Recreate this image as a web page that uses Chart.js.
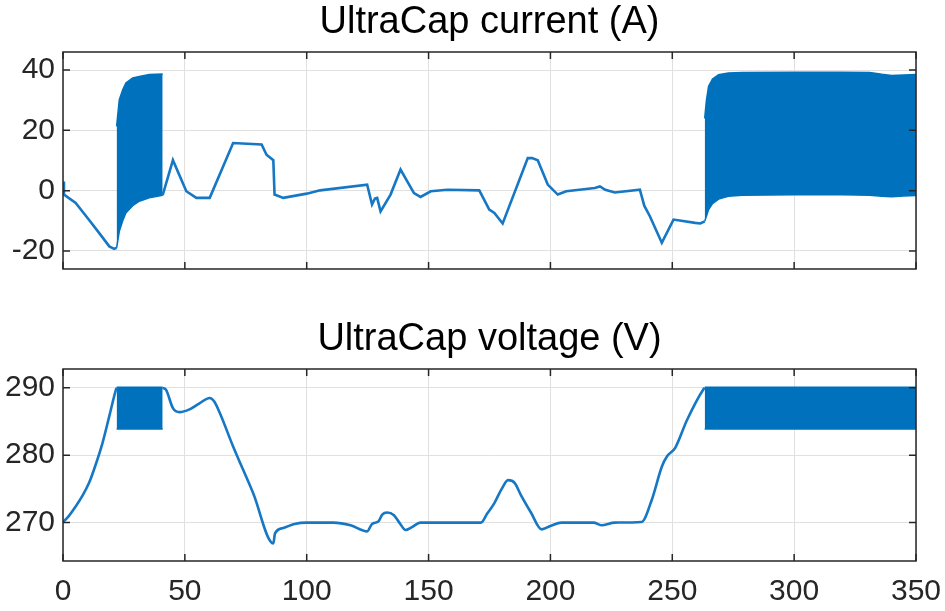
<!DOCTYPE html>
<html>
<head>
<meta charset="utf-8">
<title>UltraCap</title>
<script src="https://cdn.jsdelivr.net/npm/chart.js@4.4.1/dist/chart.umd.min.js"></script>
<style>
  body { margin: 0; background: #fff; }
  canvas { position: absolute; left: 0; }
  #cur_chart { top: 0; }
  #volt_chart { top: 317px; }
</style>
</head>
<body>
<canvas id="cur_chart" width="945" height="300"></canvas>
<canvas id="volt_chart" width="945" height="294"></canvas>
<script>
/*_____________________DATA____________________*/

const xTicks = [0, 50, 100, 150, 200, 250, 300, 350];
const curTicks = [-20, 0, 20, 40];
const voltTicks = [270, 280, 290];

// current trace (null = where the switching band is drawn)
const curT = [0, 0.4, 5.2, 10, 14.8, 19, 21, 22, 31,
  40.9, 45.1, 50.6, 54.7, 60.2, 69.8, 81.5, 83.5, 86.3, 86.8, 90.4, 100, 105.5,
  124.8, 126.8, 128, 128.9, 130.3, 134.4, 138.5, 144, 146.7, 150.9, 157.7, 170.8,
  174.9, 177, 180.4, 190.7, 192.5, 194.8, 198.9, 203, 206.5, 218.2, 220.3, 222.5,
  226.4, 236.7, 238.5, 240.8, 245.7, 250.5, 259.4, 261.5, 263.3];
const curA = [3, -1.3, -4.1, -9, -14, -18.5, -19.3, -19, null,
  -1.5, 10.1, -0.2, -2.4, -2.4, 15.8, 15.3, 11.9, 10.1, -1.3, -2.4, -1, 0.1,
  2.0, -4.6, -2.6, -2.4, -6.9, -1.3, 7.0, -0.8, -2.1, -0.2, 0.3, 0.1,
  -6.3, -7.4, -10.9, 10.8, 10.8, 10.1, 2.0, -1.3, -0.2, 0.9, 1.4, 0.3,
  -0.6, 0.3, -5, -8.5, -17.3, -9.6, -10.7, -10.9, -10.2];

// current switching bands: upper / lower envelope
const curBand1T = [22, 22.4, 23.1, 24.5, 25.8, 28.6, 31.3, 35.4, 40.9];
const curBand1Hi = [21.3, 24.6, 30.2, 33.5, 35.7, 37.4, 37.9, 38.5, 38.7];
const curBand1Lo = [-19, -17, -13.5, -10, -7.4, -5, -3.5, -2.4, -1.5];

const curBand2T = [263.3, 264, 264.9, 266.5, 269, 273, 278.7, 300, 320, 331, 336, 340, 345, 350];
const curBand2Hi = [24, 30, 34.6, 37, 38.5, 39, 39.2, 39.3, 39.3, 39.2, 38.6, 38.2, 38.4, 38.5];
const curBand2Lo = [-10.2, -8.5, -6.3, -4.3, -2.8, -1.9, -1.5, -1.4, -1.4, -1.5, -1.9, -2.0, -1.8, -1.6];

// voltage trace
const voltT = [0, 2, 5.2, 8, 10.7, 13.5, 16.2, 19, 21.7, 22, 31,
  40.9, 42.3, 45.1, 47.8, 51.9, 56, 60.2, 62, 64.3, 69.8, 78, 86.3, 87, 90.4, 95, 100,
  111, 118, 124.8, 126.8, 129.5, 131, 133, 135.8, 138, 140.6, 143, 146.7, 171.5,
  174, 177, 180, 182.6, 185.3, 188, 192, 196.4, 200, 204.5, 217.7, 220.9, 226.4,
  237.4, 241.6, 245.7, 247.8, 251.2, 256, 262.8, 263.3];
const voltV = [270.1, 270.8, 272.4, 274, 275.9, 278.7, 281.8, 285.8, 289.7, 290, null,
  290, 289.7, 287.0, 286.4, 286.8, 287.7, 288.5, 288.0, 286.3, 281.3, 274.4, 266.9, 268.4, 269.2, 269.8, 270,
  270, 269.6, 268.7, 269.8, 270.2, 271.2, 271.5, 271.1, 270, 268.9, 269.3, 270, 270,
  271.3, 272.9, 275, 276.3, 275.9, 274, 271.5, 269, 269.5, 270, 270, 269.6, 270,
  270.1, 273.4, 278.3, 279.8, 281.1, 285.2, 289.8, 290];

const voltBand1T = [22, 40.9];
const voltBand1Hi = [290.1, 290.1];
const voltBand1Lo = [283.9, 283.9];
const voltBand2T = [263.3, 350];
const voltBand2Hi = [290.1, 290.1];
const voltBand2Lo = [283.9, 283.9];


/*_____________________SETUP____________________*/

const BLUE = '#0072BD';
const LINE_BLUE = '#1677C4';
Chart.defaults.font.family = "'Liberation Sans', Arial, sans-serif";
Chart.defaults.color = '#262626';

function pts(t, v) {
  return t.map((x, i) => ({x: x, y: v[i]}));
}

// matlab style box with inward ticks
const boxPlugin = {
  id: 'box',
  afterDatasetsDraw(chart) {
    const ctx = chart.ctx, a = chart.chartArea, sx = chart.scales.x, sy = chart.scales.y;
    ctx.save();
    ctx.strokeStyle = '#262626';
    ctx.lineWidth = 1.5;
    ctx.strokeRect(a.left, a.top, a.right - a.left, a.bottom - a.top);
    ctx.beginPath();
    sx.ticks.forEach(t => {
      const p = sx.getPixelForValue(t.value);
      ctx.moveTo(p, a.top); ctx.lineTo(p, a.top + 7);
      ctx.moveTo(p, a.bottom); ctx.lineTo(p, a.bottom - 7);
    });
    sy.ticks.forEach(t => {
      const p = sy.getPixelForValue(t.value);
      ctx.moveTo(a.left, p); ctx.lineTo(a.left + 7, p);
      ctx.moveTo(a.right, p); ctx.lineTo(a.right - 7, p);
    });
    ctx.stroke();
    ctx.restore();
  }
};

function bandSets(t, hi, lo) {
  return [
    {data: pts(t, hi), borderColor: BLUE, backgroundColor: BLUE, borderWidth: 1.5,
     pointRadius: 0, fill: '+1'},
    {data: pts(t, lo), borderColor: BLUE, backgroundColor: BLUE, borderWidth: 1.5,
     pointRadius: 0, fill: false},
  ];
}

function makeChart(id, title, lineT, lineV, bands, yMin, yMax, yTicks, showX, xHeight, smooth) {
  const datasets = [
    {data: pts(lineT, lineV), borderColor: LINE_BLUE, borderWidth: 2.6, pointRadius: 0,
     fill: false, spanGaps: false, cubicInterpolationMode: smooth ? 'monotone' : 'default',
     tension: 0},
  ];
  bands.forEach(b => datasets.push(...bandSets(b[0], b[1], b[2])));

  return new Chart(document.getElementById(id), {
    type: 'line',
    data: {datasets: datasets},
    plugins: [boxPlugin],
    options: {
      responsive: false,
      animation: false,
      layout: {padding: {left: 0, right: 29, top: 0, bottom: 0}},
      plugins: {
        legend: {display: false},
        tooltip: {enabled: false},
        title: {
          display: true, text: title, color: '#000', fullSize: false,
          font: {size: 38, weight: 'normal'}, padding: {top: 0, bottom: 6.4},
        },
      },
      scales: {
        x: {
          type: 'linear', min: 0, max: 350,
          afterBuildTicks: s => { s.ticks = xTicks.map(v => ({value: v})); },
          afterFit: s => { s.height = xHeight; s.paddingLeft = 0; s.paddingRight = 0; },
          grid: {color: '#e0e0e0', drawTicks: false},
          border: {display: false},
          ticks: {display: showX, padding: 13, font: {size: 30}, maxRotation: 0},
        },
        y: {
          min: yMin, max: yMax,
          afterBuildTicks: s => { s.ticks = yTicks.map(v => ({value: v})); },
          afterFit: s => { s.width = 63; },
          grid: {color: '#e0e0e0', drawTicks: false},
          border: {display: false},
          ticks: {padding: 8, font: {size: 30}},
        },
      },
    },
  });
}


/*_____________________CURRENT____________________*/

makeChart('cur_chart', 'UltraCap current (A)', curT, curA,
  [[curBand1T, curBand1Hi, curBand1Lo], [curBand2T, curBand2Hi, curBand2Lo]],
  -26, 46, curTicks, false, 31, false);


/*_____________________VOLTAGE____________________*/

makeChart('volt_chart', 'UltraCap voltage (V)', voltT, voltV,
  [[voltBand1T, voltBand1Hi, voltBand1Lo], [voltBand2T, voltBand2Hi, voltBand2Lo]],
  264.3, 292.8, voltTicks, true, 50, true);
</script>
</body>
</html>
